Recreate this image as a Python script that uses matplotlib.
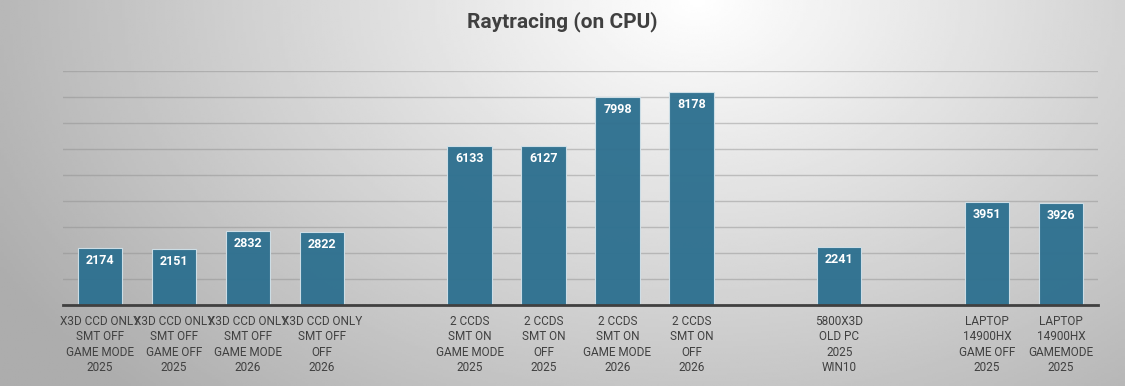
import numpy as np
import matplotlib
matplotlib.use("Agg")
import matplotlib.pyplot as plt

plt.rcParams['font.family'] = ['Roboto', 'DejaVu Sans']

# data (empty strings / None are the gap slots between groups)
categories = [
    "X3D CCD ONLY\nSMT OFF\nGAME MODE\n2025",
    "X3D CCD ONLY\nSMT OFF\nGAME OFF\n2025",
    "X3D CCD ONLY\nSMT OFF\nGAME MODE\n2026",
    "X3D CCD ONLY\nSMT OFF\nOFF\n2026",
    "",
    "2 CCDS\nSMT ON\nGAME MODE\n2025",
    "2 CCDS\nSMT ON\nOFF\n2025",
    "2 CCDS\nSMT ON\nGAME MODE\n2026",
    "2 CCDS\nSMT ON\nOFF\n2026",
    "",
    "5800X3D\nOLD PC\n2025\nWIN10",
    "",
    "LAPTOP\n14900HX\nGAME OFF\n2025",
    "LAPTOP\n14900HX\nGAMEMODE\n2025",
]
scores = [2174, 2151, 2832, 2822, None, 6133, 6127, 7998, 8178, None, 2241, None, 3951, 3926]

BAR_COLOR = "#2f7190"
TEXT_COLOR = "#404040"

fig = plt.figure(figsize=(11.25, 3.86), dpi=100)

# radial gradient background, bright spot top centre-right
bg = fig.add_axes([0, 0, 1, 1], zorder=-10)
gx, gy = np.meshgrid(np.linspace(0, 1, 400), np.linspace(0, 1, 200))
d = np.sqrt(((gx - 0.62) / 0.62) ** 2 + ((gy - 1.0) / 1.25) ** 2)
shade = 1.0 - 0.28 * np.clip(d, 0, 1.15)
bg.imshow(shade, cmap="gray", vmin=0, vmax=1, aspect="auto", origin="lower",
          extent=[0, 1, 0, 1])
bg.axis("off")

ax = fig.add_axes([63 / 1125, 1 - 305 / 386, 1035 / 1125, 234 / 386])
ax.patch.set_alpha(0)

x = np.arange(len(categories))
vals = [v if v is not None else 0 for v in scores]
bars = ax.bar(x, vals, width=0.6, color=BAR_COLOR, edgecolor="#d0e0e8",
              linewidth=0.8, alpha=0.97, zorder=3)

for xi, v in zip(x, scores):
    if v is None:
        continue
    ax.text(xi, v - 230, str(v), ha="center", va="top", color="white",
            fontsize=9, fontweight="bold", zorder=4)

ax.set_xlim(-0.5, len(categories) - 0.5)
ax.set_ylim(0, 9000)
ax.set_yticks(np.arange(0, 9001, 1000))
ax.set_yticklabels([])
ax.tick_params(axis="y", length=0)
ax.grid(axis="y", color="#8c8c8c", alpha=0.45, linewidth=1, zorder=0)

ax.set_xticks(x)
ax.set_xticklabels(categories, fontsize=8.5, color=TEXT_COLOR, linespacing=1.25)
ax.tick_params(axis="x", length=0, pad=7)

for s in ["top", "right", "left"]:
    ax.spines[s].set_visible(False)
ax.spines["bottom"].set_color("#404040")
ax.spines["bottom"].set_linewidth(2)
ax.spines["bottom"].set_zorder(5)

fig.text(0.5, 1 - 22 / 386, "Raytracing (on CPU)", ha="center", va="center",
         fontsize=15, fontweight="bold", color=TEXT_COLOR)

fig.savefig("out.png", dpi=100)
